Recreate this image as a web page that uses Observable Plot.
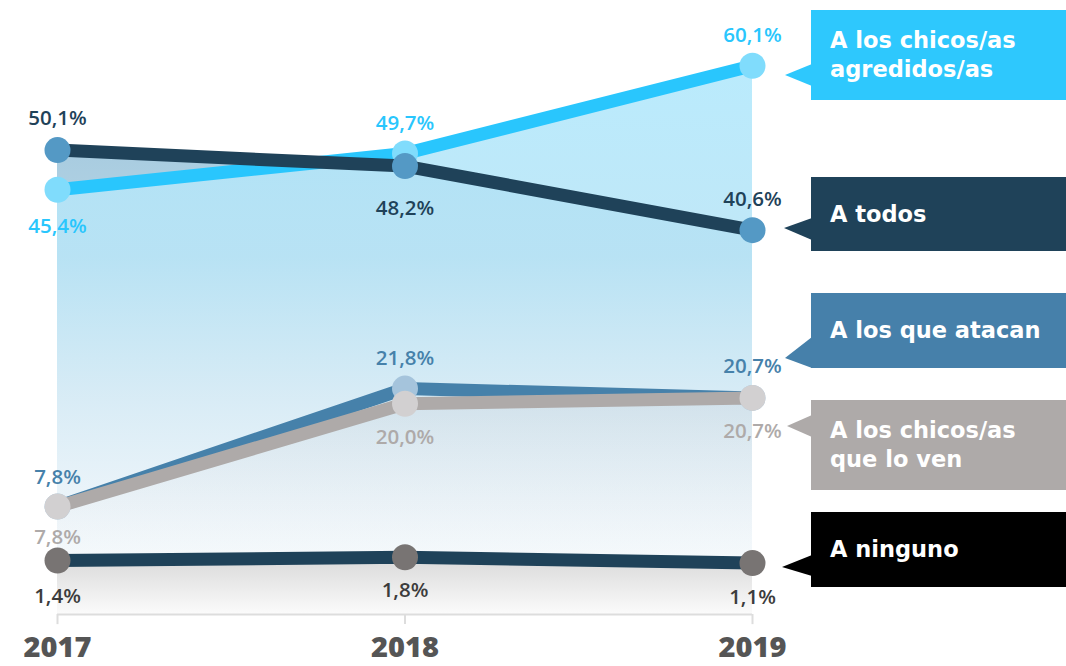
<!DOCTYPE html>
<html><head><meta charset="utf-8">
<script src="https://cdn.jsdelivr.net/npm/d3@7"></script>
<script src="https://cdn.jsdelivr.net/npm/@observablehq/plot@0.6"></script>
<style>
body{margin:0;background:#fff;font-family:"Open Sans",sans-serif;}
#wrap{position:relative;width:1066px;height:666px;overflow:hidden;}
.box{position:absolute;left:811px;width:260px;color:#fff;font-family:"DejaVu Sans",sans-serif;font-weight:700;font-size:22.5px;line-height:29px;display:flex;flex-direction:column;justify-content:center;padding-left:19px;box-sizing:border-box;}
#ptr{position:absolute;left:0;top:0;pointer-events:none;}
</style></head><body><div id="wrap"></div>
<script>
// ---- data ----
const years = [2017, 2018, 2019];
const yearLabels = ["2017", "2018", "2019"];
const agredidos = [45.4, 49.7, 60.1];
const todos = [50.1, 48.2, 40.6];
const atacan = [7.8, 21.8, 20.7];
const ven = [7.8, 20.0, 20.7];
const ninguno = [1.4, 1.8, 1.1];
const legendLabels = [["A los chicos/as", "agredidos/as"], ["A todos"], ["A los que atacan"], ["A los chicos/as", "que lo ven"], ["A ninguno"]];

// ---- styles / layout ----
const styles = [
  {key: "agredidos", values: agredidos, line: "#29c6fd", dot: "#80dcfc", text: "#29c6fd", dy: [37, -30, -30]},
  {key: "todos", values: todos, line: "#1f4259", dot: "#5499c5", text: "#1f4259", dy: [-32, 42, -31]},
  {key: "atacan", values: atacan, line: "#4681aa", dot: "#a5c4dc", text: "#4681aa", dy: [-29, -30, -31]},
  {key: "ven", values: ven, line: "#aeaaa9", dot: "#d2d0d1", text: "#aeaaa9", dy: [31, 34, 34]},
  {key: "ninguno", values: ninguno, line: "#1f4259", dot: "#787473", text: "#3c3c3c", dy: [36, 33, 34]}
];
const legendLayout = [
  {top: 10, h: 90, color: "#2ec8fd", tip: [785, 75], base: [64, 86]},
  {top: 177, h: 74, color: "#1f4259", tip: [784, 228], base: [218, 240]},
  {top: 293, h: 75, color: "#4680aa", tip: [785, 358], base: [337, 368]},
  {top: 400, h: 90, color: "#aeaaa9", tip: [787, 426], base: [415, 437]},
  {top: 512, h: 75, color: "#000000", tip: [782, 567], base: [555, 576]}
];
const BASE = -5;
const TICK = 1.2;
const fmt = v => v.toFixed(1).replace(".", ",") + "%";

const rows = s => years.map((yr, i) => ({year: yr, v: s.values[i], label: fmt(s.values[i])}));

const marks = [];
// areas
marks.push(Plot.areaY(rows(styles[1]), {x: "year", y1: BASE, y2: "v", fill: "url(#gTodos)"}));
marks.push(Plot.areaY(rows(styles[0]), {x: "year", y1: BASE, y2: "v", fill: "url(#gAgr)", fillOpacity: 0.88}));
marks.push(Plot.areaY(rows(styles[3]), {x: "year", y1: BASE, y2: "v", fill: "url(#gVen)"}));
marks.push(Plot.areaY(rows(styles[4]), {x: "year", y1: BASE, y2: "v", fill: "url(#gNin)"}));
// axis
marks.push(Plot.ruleY([BASE], {x1: years[0], x2: years[2], stroke: "#dddddd", strokeWidth: 2}));
marks.push(Plot.ruleX(years, {x: d => d, y1: BASE, y2: BASE - TICK, stroke: "#dddddd", strokeWidth: 2}));
marks.push(Plot.text(years, {x: d => d, y: BASE, text: (d, i) => yearLabels[i], dy: 33, fontSize: 29, fontWeight: 800, fill: "#555555", textAnchor: "middle", lineAnchor: "middle"}));
// lines, dots
for (const s of styles) {
  const r = rows(s);
  marks.push(Plot.line(r, {x: "year", y: "v", stroke: s.line, strokeWidth: 13, strokeLinecap: "butt"}));
  marks.push(Plot.dot(r, {x: "year", y: "v", r: 13, fill: s.dot, stroke: "none"}));
}
// value labels, one mark per point so each has its own offset
for (const s of styles) {
  rows(s).forEach((row, i) => {
    marks.push(Plot.text([row], {x: "year", y: "v", text: "label", dy: s.dy[i], fill: s.text, fontSize: 20.5, fontWeight: 600, textAnchor: "middle", lineAnchor: "middle"}));
  });
}

const plot = Plot.plot({
  width: 1066, height: 666,
  marginLeft: 57, marginRight: 314, marginTop: 24, marginBottom: 52,
  x: {type: "linear", domain: [2017, 2019], axis: null},
  y: {type: "linear", domain: [BASE, 65], axis: null},
  style: {fontFamily: "'Open Sans', sans-serif", background: "transparent", overflow: "visible"},
  marks
});

const svg = d3.select(plot);
const defs = svg.insert("defs", ":first-child");
function grad(id, stops) {
  const g = defs.append("linearGradient").attr("id", id).attr("x1", 0).attr("y1", 0).attr("x2", 0).attr("y2", 1);
  for (const [o, c, op] of stops) g.append("stop").attr("offset", o).attr("stop-color", c).attr("stop-opacity", op ?? 1);
}
grad("gAgr", [[0, "#b0e8fc"], [0.35, "#b8e4f6"], [0.6, "#d9edf7"], [0.8, "#edf5fa"], [1, "#ffffff"]]);
grad("gTodos", [[0, "#a8cce0"], [0.5, "#c9dfea"], [1, "#ffffff"]]);
grad("gVen", [[0, "#b8bcc4", 0.22], [1, "#ffffff", 0]]);
grad("gNin", [[0, "#d9d9d9"], [1, "#fbfbfb"]]);

const wrap = document.getElementById("wrap");
wrap.appendChild(plot);

// legend
const ptr = d3.select(wrap).append("svg").attr("id", "ptr").attr("width", 1066).attr("height", 666);
legendLayout.forEach((L, i) => {
  const d = document.createElement("div");
  d.className = "box";
  d.style.top = L.top + "px";
  d.style.height = L.h + "px";
  d.style.background = L.color;
  legendLabels[i].forEach(t => { const s = document.createElement("div"); s.textContent = t; d.appendChild(s); });
  wrap.appendChild(d);
  ptr.append("polygon").attr("points", `${L.tip[0]},${L.tip[1]} 812,${L.base[0]} 812,${L.base[1]}`).attr("fill", L.color);
});
</script></body></html>
